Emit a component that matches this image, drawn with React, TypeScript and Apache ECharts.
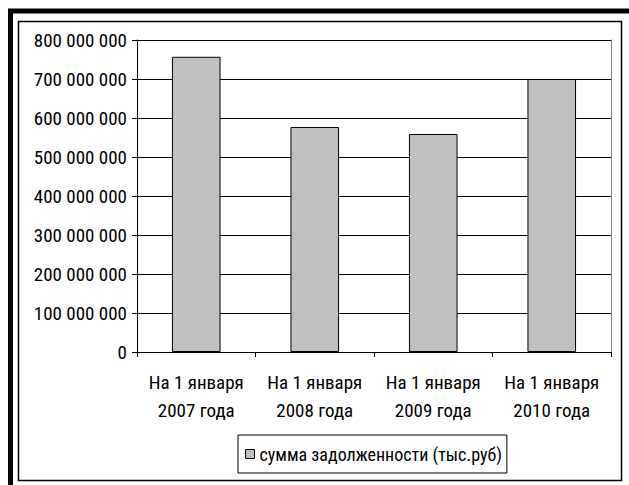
import React, { useEffect, useRef } from "react";
import * as echarts from "echarts";

const categories = [
  "На 1 января\n2007 года",
  "На 1 января\n2008 года",
  "На 1 января\n2009 года",
  "На 1 января\n2010 года",
];
const debtValues = [757000000, 577000000, 559000000, 700000000];
const seriesName = "сумма задолженности (тыс.руб)";

const FONT = "'Roboto Condensed', 'Liberation Sans', Arial, sans-serif";

function fmt(v: number) {
  return String(v).replace(/\B(?=(\d{3})+(?!\d))/g, " ");
}

export default function App() {
  const ref = useRef<HTMLDivElement>(null);
  useEffect(() => {
    if (!ref.current) return;
    const chart = echarts.init(ref.current, null, { renderer: "svg" });
    chart.setOption({
      animation: false,
      backgroundColor: "#fff",
      textStyle: { fontFamily: FONT },
      graphic: [
        { type: "rect", shape: { x: 10.5, y: 11, width: 700, height: 600 }, style: { fill: "none", stroke: "#000", lineWidth: 5 }, silent: true },
        { type: "rect", shape: { x: 18.5, y: 21.5, width: 603, height: 459 }, style: { fill: "none", stroke: "#000", lineWidth: 1.5 }, silent: true },
      ],
      grid: { left: 137, top: 40, right: 18, bottom: 133 },
      legend: {
        bottom: 12,
        left: 238,
        data: [seriesName],
        icon: "rect",
        itemWidth: 9,
        itemHeight: 9,
        itemGap: 4,
        padding: [10, 5, 10, 7],
        borderColor: "#000",
        borderWidth: 1,
        itemStyle: { borderColor: "#000", borderWidth: 1 },
        textStyle: { fontFamily: FONT, fontSize: 18, lineHeight: 18, color: "#000" },
      },
      xAxis: {
        type: "category",
        data: categories,
        axisLine: { lineStyle: { color: "#000" } },
        axisTick: { show: true, length: 5, lineStyle: { color: "#000" } },
        axisLabel: { color: "#000", fontSize: 19, fontFamily: FONT, lineHeight: 28, margin: 16, interval: 0 },
      },
      yAxis: [
        {
          type: "value",
          min: 0,
          max: 800000000,
          interval: 100000000,
          axisLine: { show: true, lineStyle: { color: "#000" } },
          axisTick: { show: true, length: 5, lineStyle: { color: "#000" } },
          axisLabel: { color: "#000", fontSize: 19, fontFamily: FONT, margin: 10, formatter: (v: number) => fmt(v) },
          splitLine: { show: true, lineStyle: { color: "#000", width: 1 } },
        },
        {
          type: "value",
          position: "right",
          min: 0,
          max: 800000000,
          interval: 100000000,
          axisLine: { show: true, lineStyle: { color: "#808080" } },
          axisTick: { show: false },
          axisLabel: { show: false },
          splitLine: { show: false },
        },
      ],
      series: [
        {
          name: seriesName,
          type: "bar",
          data: debtValues,
          barWidth: "41%",
          itemStyle: { color: "#C0C0C0", borderColor: "#000", borderWidth: 1 },
        },
      ],
    });
    return () => chart.dispose();
  }, []);
  return <div ref={ref} style={{ position: "fixed", left: 0, top: 0, width: 629, height: 485 }} />;
}
